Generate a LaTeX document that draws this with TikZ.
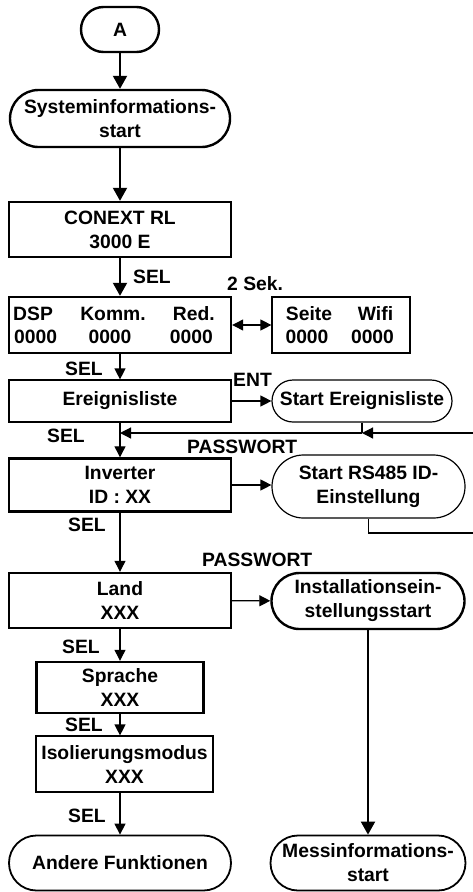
\documentclass[tikz,border=0pt]{standalone}
\usepackage{fontspec}
\setmainfont{Liberation Sans}
\usetikzlibrary{arrows.meta}
\tikzset{
 bx/.style={draw, rectangle, inner sep=0pt, align=center, font=\fontsize{19.3}{24}\selectfont\bfseries},
 thk/.style={line width=2.4pt},
 med/.style={line width=1.8pt},
 thn/.style={line width=1.2pt},
 lbl/.style={inner sep=0pt, anchor=base west, font=\fontsize{19.3}{24}\selectfont\bfseries},
 ar/.style={line width=1.2pt, -{Triangle[length=11pt,width=11pt]}},
 arb/.style={line width=2pt, -{Triangle[length=13pt,width=14pt]}},
 dar/.style={line width=1.2pt, {Triangle[length=11pt,width=11pt]}-{Triangle[length=11pt,width=11pt]}},
}
\begin{document}
\begin{tikzpicture}[x=1pt,y=-1pt]
\useasboundingbox (0,0) rectangle (472,892);
% main column
\node[bx,thk,minimum width=78,minimum height=45,rounded corners=22.5] (A) at (120,29.5) {A};
\node[bx,thk,minimum width=220,minimum height=57,rounded corners=28.5] (sys) at (120,118.5) {Systeminformations-\\start};
\node[bx,thk,minimum width=222,minimum height=55] (conext) at (120,229.5) {CONEXT RL\\3000 E};
\node[bx,thk,minimum width=222,minimum height=56] (dsp) at (120,325) {};
\node[lbl] (dsp1) at (13,320) {DSP};
\node[lbl,anchor=base] (dsp2) at (113,320) {Komm.};
\node[lbl,anchor=base east] (dsp3) at (215,320) {Red.};
\node[lbl] (dsp4) at (14,343) {0000};
\node[lbl,anchor=base] (dsp5) at (110,343) {0000};
\node[lbl,anchor=base east] (dsp6) at (213,343) {0000};
\node[bx,thn,minimum width=138,minimum height=56] (seite) at (341,325) {};
\node[lbl,anchor=base] (s1) at (309,320) {Seite};
\node[lbl,anchor=base] (s2) at (375.5,320) {Wifi};
\node[lbl,anchor=base] (s3) at (307,343) {0000};
\node[lbl,anchor=base] (s4) at (372.5,343) {0000};
\node[bx,thn,minimum width=222,minimum height=42] (ereig) at (120,401) {Ereignisliste};
\node[bx,thn,minimum width=180,minimum height=42,rounded corners=21] (startE) at (362,401) {Start Ereignisliste};
\node[bx,thk,minimum width=222,minimum height=53] (inv) at (120,485) {Inverter\\ID : XX};
\node[bx,thn,minimum width=193,minimum height=63,rounded corners=31.5] (rs) at (368.5,486.5) {Start RS485 ID-\\Einstellung};
\node[bx,thk,minimum width=222,minimum height=55] (land) at (120,600.5) {Land\\XXX};
\node[bx,thk,minimum width=193,minimum height=56,rounded corners=28] (inst) at (368,601) {Installationsein-\\stellungsstart};
\node[bx,thk,minimum width=167,minimum height=51] (spr) at (120,687.5) {Sprache\\XXX};
\node[bx,thn,minimum width=177,minimum height=56] (iso) at (124.5,764) {Isolierungsmodus\\XXX};
\node[bx,med,minimum width=222,minimum height=55,rounded corners=27.5] (andere) at (120,863) {Andere Funktionen};
\node[bx,med,minimum width=195,minimum height=55,rounded corners=27.5] (mess) at (368,863) {Messinformations-\\start};
% labels
\node[lbl] (l1) at (133,283) {SEL};
\node[lbl] (l2) at (227,290) {2 Sek.};
\node[lbl] (l3) at (65,375) {SEL};
\node[lbl] (l4) at (233,386) {ENT};
\node[lbl] (l5) at (47,442) {SEL};
\node[lbl] (l6) at (187,453) {PASSWORT};
\node[lbl] (l7) at (68,531) {SEL};
\node[lbl] (l8) at (202,566) {PASSWORT};
\node[lbl] (l9) at (62,653) {SEL};
\node[lbl] (l10) at (65,731) {SEL};
\node[lbl] (l11) at (68,822) {SEL};
% connectors
\draw[arb] (A) -- (sys);
\draw[arb] (sys) -- (conext);
\draw[arb] (conext) -- (dsp);
\draw[ar] (dsp) -- (ereig);
\draw[ar] (ereig) -- (inv);
\draw[ar] (inv) -- (land);
\draw[ar] (land) -- (spr);
\draw[ar] (spr.south) -- (spr.south |- iso.north);
\draw[ar] (spr.south |- iso.south) -- (andere.north);
\draw[dar] (dsp) -- (seite);
\draw[ar] (ereig) -- (startE);
\draw[ar] (inv.east) -- (inv.east -| rs.west);
\draw[ar] (land) -- (inst);
\draw[arb] (inst) -- (mess);
% feedback loop
\coordinate (j0) at (120,433);
\coordinate (jE) at (startE.south |- j0);
\coordinate (rEdge1) at (476,433);
\coordinate (rsB) at (368.5,533);
\coordinate (rEdge2) at (476,533);
\draw[thn] (startE.south) -- (jE);
\draw[ar] (rEdge1) -- (jE);
\draw[ar] (jE) -- (j0);
\draw[thn] (rs.south) -- (rsB) -- (rEdge2);
\end{tikzpicture}
\end{document}
